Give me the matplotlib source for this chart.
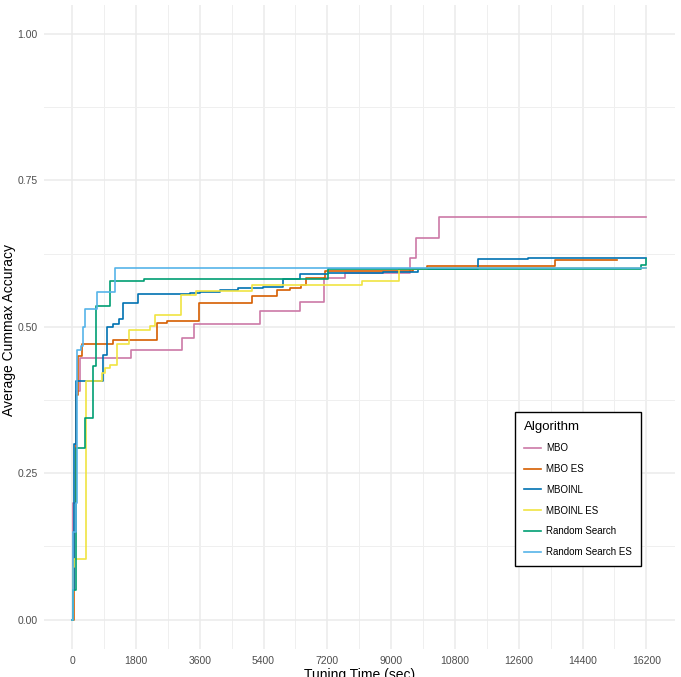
import numpy as np
import matplotlib.pyplot as plt
from matplotlib.ticker import MultipleLocator

plt.rcParams['font.family'] = ['Liberation Sans', 'DejaVu Sans']

# step data: tuning time (sec) and average cummax accuracy
mbo_t = [0, 30, 100, 226, 1657, 3096, 3443, 5305, 6415, 7112, 7704, 9539, 9708, 10337, 16200]
mbo_acc = [0, 0.20, 0.39, 0.447, 0.461, 0.480, 0.505, 0.527, 0.542, 0.583, 0.592, 0.618, 0.652, 0.688, 0.688]

mbo_es_t = [0, 40, 100, 170, 274, 1149, 2390, 2672, 3584, 5071, 5785, 6152, 6454, 6604, 7140, 9623, 10018, 13630, 15380]
mbo_es_acc = [0, 0.15, 0.384, 0.45, 0.47, 0.478, 0.507, 0.509, 0.541, 0.553, 0.562, 0.566, 0.572, 0.583, 0.595, 0.598, 0.603, 0.614, 0.614]

mboinl_t = [0, 30, 60, 113, 855, 979, 1157, 1326, 1439, 1863, 3330, 3612, 4177, 4685, 5390, 5954, 6434, 7224, 8776, 9764, 11457, 12868, 16200]
mboinl_acc = [0, 0.05, 0.30, 0.407, 0.452, 0.50, 0.505, 0.513, 0.541, 0.556, 0.558, 0.560, 0.562, 0.566, 0.568, 0.581, 0.590, 0.591, 0.593, 0.598, 0.615, 0.618, 0.618]

mboinl_es_t = [0, 30, 60, 395, 838, 931, 1072, 1261, 1589, 2201, 2342, 3068, 3500, 5071, 8175, 9208, 10010, 16200]
mboinl_es_acc = [0, 0.09, 0.104, 0.407, 0.421, 0.430, 0.435, 0.470, 0.495, 0.501, 0.520, 0.555, 0.561, 0.572, 0.578, 0.598, 0.600, 0.600]

rs_t = [0, 30, 104, 375, 573, 677, 1072, 2032, 7225, 16050, 16200]
rs_acc = [0, 0.05, 0.293, 0.344, 0.433, 0.535, 0.578, 0.581, 0.598, 0.606, 0.615]

rs_es_t = [0, 20, 100, 140, 245, 310, 367, 700, 1213, 16200]
rs_es_acc = [0, 0.15, 0.20, 0.46, 0.467, 0.50, 0.53, 0.56, 0.601, 0.601]

labels = ['MBO', 'MBO ES', 'MBOINL', 'MBOINL ES', 'Random Search', 'Random Search ES']
colors = ['#CC79A7', '#D55E00', '#0072B2', '#F0E442', '#009E73', '#56B4E9']
series = [(mbo_t, mbo_acc), (mbo_es_t, mbo_es_acc), (mboinl_t, mboinl_acc),
          (mboinl_es_t, mboinl_es_acc), (rs_t, rs_acc), (rs_es_t, rs_es_acc)]

fig = plt.figure(figsize=(6.81, 6.77), dpi=100)
ax = fig.add_axes([43.5 / 681, 28 / 677, 631.5 / 681, 644.5 / 677])

for (t, a), lab, col in zip(series, labels, colors):
    ax.step(t, a, where='post', color=col, lw=1.2, label=lab)

ax.set_xlim(-810, 17010)
ax.set_ylim(-0.05, 1.05)
ax.xaxis.set_minor_locator(MultipleLocator(900))
ax.yaxis.set_minor_locator(MultipleLocator(0.125))
ax.set_yticks([0, 0.25, 0.5, 0.75, 1.0])
ax.set_yticklabels(['0.00', '0.25', '0.50', '0.75', '1.00'])
ax.set_xticks(np.arange(0, 16201, 1800))

ax.grid(which='major', color='#EBEBEB', lw=1.1)
ax.grid(which='minor', color='#EFEFEF', lw=0.7)
ax.set_axisbelow(True)
for s in ax.spines.values():
    s.set_visible(False)
ax.tick_params(which='both', length=0, labelsize=7.5, labelcolor='#4D4D4D')
ax.tick_params(axis='x', pad=5)
ax.tick_params(axis='y', pad=4)

fig.text(0.5 * (43.5 + 675) / 681, 2 / 677, 'Tuning Time (sec)', ha='center', va='center', fontsize=10)
fig.text(9 / 681, (677 - 330) / 677, 'Average Cummax Accuracy', ha='center', va='center',
         rotation=90, fontsize=10)

leg = ax.legend(loc='upper left', bbox_to_anchor=(515 / 681, 1 - 412 / 677),
                bbox_transform=fig.transFigure, title='Algorithm', fontsize=7,
                title_fontsize=9.5, handlelength=1.75, handletextpad=0.55,
                labelspacing=1.1, borderpad=0.9, borderaxespad=0,
                fancybox=False, framealpha=1)
leg.get_frame().set_edgecolor('black')
leg.get_frame().set_linewidth(1.0)
leg._legend_box.align = 'left'

fig.savefig('out.png', dpi=100)
